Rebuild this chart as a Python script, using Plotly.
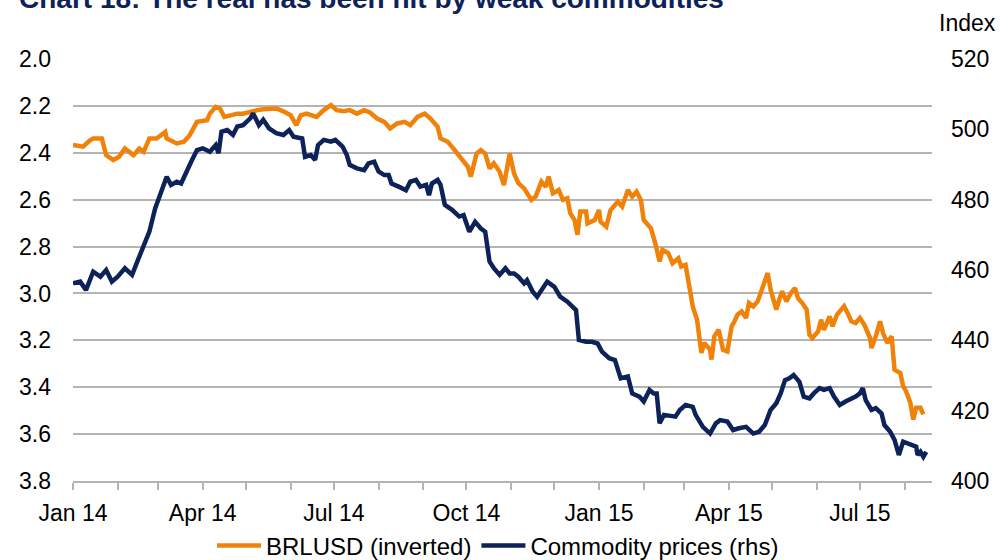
import pandas as pd
import plotly.graph_objects as go

BASE = pd.Timestamp("2014-01-01")

# BRLUSD (inverted axis) - day offsets from 1 Jan 2014 and values
brl_days = [
    0, 7, 12, 14, 20, 23, 28, 32, 36, 42, 46, 49, 53, 58, 64, 65, 72, 77, 81, 86,
    93, 95, 99, 102, 105, 109, 114, 118, 123, 128, 132, 137, 141, 146, 151, 155, 158, 162, 169, 174,
    179, 183, 188, 192, 197, 202, 206, 211, 216, 220, 225, 230, 234, 239, 244, 248, 253, 255, 260, 264,
    269, 274, 276, 280, 283, 286, 289, 292, 296, 299, 303, 306, 309, 313, 318, 321, 325, 328, 330, 333,
    337, 340, 343, 345, 348, 350, 352, 356, 357, 362, 365, 366, 370, 373, 378, 381, 385, 388, 391, 394,
    396, 401, 404, 407, 409, 413, 416, 420, 422, 425, 428, 430, 433, 436, 438, 442, 443, 445, 448, 451,
    454, 457, 459, 461, 464, 467, 469, 472, 475, 477, 481, 482, 484, 488, 490, 492, 495, 498, 501, 503,
    506, 509, 511, 513, 517, 519, 521, 525, 527, 530, 533, 535, 538, 540, 543, 546, 549, 553, 554, 557,
    560, 562, 565, 568, 570, 574, 576, 578, 581, 583, 585, 588, 590,
]
brl_vals = [
    2.367, 2.374, 2.346, 2.339, 2.339, 2.410, 2.431, 2.417, 2.382, 2.410,
    2.382, 2.396, 2.339, 2.339, 2.311, 2.339, 2.360, 2.353, 2.325, 2.268,
    2.261, 2.233, 2.204, 2.211, 2.247, 2.240, 2.233, 2.233, 2.223, 2.218,
    2.214, 2.211, 2.211, 2.223, 2.240, 2.282, 2.240, 2.233, 2.247, 2.218,
    2.197, 2.218, 2.223, 2.218, 2.233, 2.218, 2.228, 2.254, 2.268, 2.296,
    2.275, 2.268, 2.282, 2.247, 2.233, 2.254, 2.289, 2.339, 2.353, 2.382,
    2.424, 2.460, 2.502, 2.403, 2.389, 2.403, 2.467, 2.445, 2.481, 2.538,
    2.403, 2.488, 2.530, 2.552, 2.601, 2.587, 2.523, 2.545, 2.502, 2.573,
    2.559, 2.601, 2.594, 2.658, 2.687, 2.750, 2.651, 2.651, 2.701, 2.687,
    2.644, 2.694, 2.715, 2.644, 2.609, 2.630, 2.559, 2.587, 2.566, 2.601,
    2.687, 2.722, 2.786, 2.864, 2.814, 2.828, 2.871, 2.850, 2.885, 2.878,
    2.984, 3.055, 3.112, 3.254, 3.211, 3.240, 3.282, 3.183, 3.155, 3.240,
    3.247, 3.140, 3.119, 3.091, 3.077, 3.105, 3.041, 3.055, 3.034, 2.999,
    2.928, 2.913, 2.984, 3.069, 3.027, 2.991, 3.034, 2.999, 2.977, 3.020,
    3.041, 3.069, 3.176, 3.190, 3.162, 3.112, 3.155, 3.098, 3.140, 3.091,
    3.069, 3.055, 3.091, 3.119, 3.126, 3.105, 3.133, 3.190, 3.233, 3.183,
    3.119, 3.169, 3.211, 3.183, 3.325, 3.339, 3.396, 3.417, 3.467, 3.538,
    3.488, 3.488, 3.516,
]

# Commodity prices (rhs, index) - day offsets from 1 Jan 2014 and values
com_days = [
    0, 5, 9, 14, 19, 23, 27, 31, 36, 41, 45, 49, 53, 57, 61, 65, 68, 72, 75, 79,
    82, 86, 90, 95, 99, 101, 103, 107, 111, 114, 118, 123, 125, 129, 132, 136, 141, 146, 150, 153,
    159, 161, 165, 168, 170, 174, 179, 182, 187, 190, 192, 197, 202, 205, 209, 212, 216, 219, 221, 226,
    231, 234, 238, 241, 245, 247, 249, 253, 255, 258, 263, 268, 271, 275, 279, 283, 286, 289, 292, 296,
    300, 303, 306, 309, 313, 315, 319, 322, 325, 329, 334, 338, 343, 347, 349, 351, 356, 360, 364, 367,
    372, 376, 380, 385, 388, 393, 396, 400, 403, 405, 407, 410, 415, 418, 421, 425, 430, 432, 437, 440,
    442, 446, 449, 454, 458, 462, 467, 472, 476, 480, 484, 488, 491, 494, 497, 500, 504, 507, 511, 514,
    518, 521, 525, 528, 532, 536, 541, 543, 546, 548, 550, 554, 557, 561, 563, 567, 570, 572, 573, 576,
    580, 585, 586, 588, 590, 592,
]
com_vals = [
    456.2, 456.7, 454.3, 459.5, 458.1, 460.0, 456.7, 458.1, 460.5, 458.6,
    462.8, 466.6, 470.9, 477.5, 482.3, 486.5, 484.2, 485.1, 484.6, 488.4,
    490.8, 494.1, 494.6, 493.6, 495.5, 493.2, 499.3, 499.8, 498.4, 500.8,
    501.2, 503.1, 504.5, 501.2, 502.7, 500.3, 498.9, 498.4, 499.8, 497.9,
    497.4, 492.2, 492.7, 491.3, 495.5, 497.0, 496.5, 497.0, 495.1, 492.7,
    489.9, 488.9, 488.4, 490.3, 490.8, 488.0, 487.0, 487.0, 484.6, 483.7,
    482.7, 485.1, 485.6, 483.7, 484.2, 481.3, 484.6, 485.6, 484.2, 478.5,
    477.1, 475.2, 475.6, 470.9, 473.7, 471.8, 470.9, 462.4, 460.5, 458.6,
    460.5, 459.0, 459.0, 458.1, 456.2, 457.1, 453.8, 452.4, 454.3, 456.7,
    455.2, 452.4, 451.0, 449.1, 448.6, 440.1, 439.6, 439.6, 439.1, 436.8,
    434.9, 434.4, 429.2, 429.7, 424.9, 424.0, 422.6, 425.9, 424.9, 424.9,
    416.4, 418.8, 418.3, 418.3, 420.2, 421.6, 421.1, 418.8, 415.4, 414.0,
    413.5, 416.4, 417.3, 416.9, 414.5, 415.0, 415.4, 413.5, 414.0, 415.9,
    420.2, 422.1, 424.9, 428.7, 429.2, 430.1, 428.2, 424.0, 423.5, 424.9,
    426.4, 425.9, 426.4, 424.0, 421.6, 422.6, 423.5, 424.0, 424.9, 426.4,
    423.0, 420.2, 420.7, 419.2, 415.9, 414.0, 411.7, 408.3, 407.4, 411.2,
    410.7, 409.8, 407.4, 408.3, 406.9, 408.3,
]

left_ticks = [2.0, 2.2, 2.4, 2.6, 2.8, 3.0, 3.2, 3.4, 3.6, 3.8]
right_ticks = [400, 420, 440, 460, 480, 500, 520]

brl_dates = BASE + pd.to_timedelta(brl_days, unit="D")
com_dates = BASE + pd.to_timedelta(com_days, unit="D")

ORANGE = "#F0820A"
NAVY = "#0C2259"
GRID = "#B4B4B4"
FONT = "Liberation Sans, Arial, sans-serif"

fig = go.Figure()
fig.add_trace(go.Scatter(x=brl_dates, y=brl_vals, name="BRLUSD (inverted)",
                         mode="lines", line=dict(color=ORANGE, width=4.5)))
fig.add_trace(go.Scatter(x=com_dates, y=com_vals, name="Commodity prices (rhs)",
                         mode="lines", line=dict(color=NAVY, width=4.5), yaxis="y2"))

fig.update_layout(
    width=1000, height=560, autosize=False,
    margin=dict(l=73, r=68, t=59, b=79, autoexpand=False),
    paper_bgcolor="white", plot_bgcolor="white",
    font=dict(family=FONT, size=23, color="#000000"),
    showlegend=True,
    legend=dict(orientation="h", xref="container", yref="container",
                x=0.498, xanchor="center", y=1 - 546 / 560, yanchor="middle",
                font=dict(size=24), itemwidth=44, tracegroupgap=0),
    xaxis=dict(
        range=["2014-01-01", "2015-08-20"],
        tickformat="%b %y", dtick="M3", tick0="2014-01-01",
        ticks="outside", ticklen=7, tickcolor=GRID, tickwidth=1.5,
        minor=dict(dtick="M1", ticks="outside", ticklen=7, tickcolor=GRID, tickwidth=1.5),
        showline=True, linecolor=GRID, linewidth=1.5,
        showgrid=False, zeroline=False, ticklabelstandoff=4,
    ),
    yaxis=dict(
        range=[3.8, 2.0], tickvals=left_ticks, tickformat=".1f",
        showgrid=True, gridcolor=GRID, gridwidth=1.5,
        zeroline=False, showline=False, ticks="", ticklabelstandoff=21,
    ),
    yaxis2=dict(
        range=[400, 520], tickvals=right_ticks, overlaying="y", side="right",
        showgrid=False, zeroline=False, showline=False, ticks="", ticklabelstandoff=18,
    ),
    annotations=[
        dict(text="<b>Chart 18: The real has been hit by weak commodities</b>",
             xref="paper", yref="paper", x=(17 - 73) / 859, y=(481 - 16) / 422,
             xanchor="left", yanchor="bottom", showarrow=False,
             font=dict(family=FONT, size=28, color="#0C2259")),
        dict(text="Index", xref="paper", yref="paper", x=(998 - 73) / 859,
             y=(481 - 38) / 422, xanchor="right", yanchor="bottom", showarrow=False,
             font=dict(family=FONT, size=23)),
    ],
)

fig.write_html(
    "out.html",
    config={"displayModeBar": False},
    post_script="document.body.style.margin='0';document.body.style.overflow='hidden';",
)
